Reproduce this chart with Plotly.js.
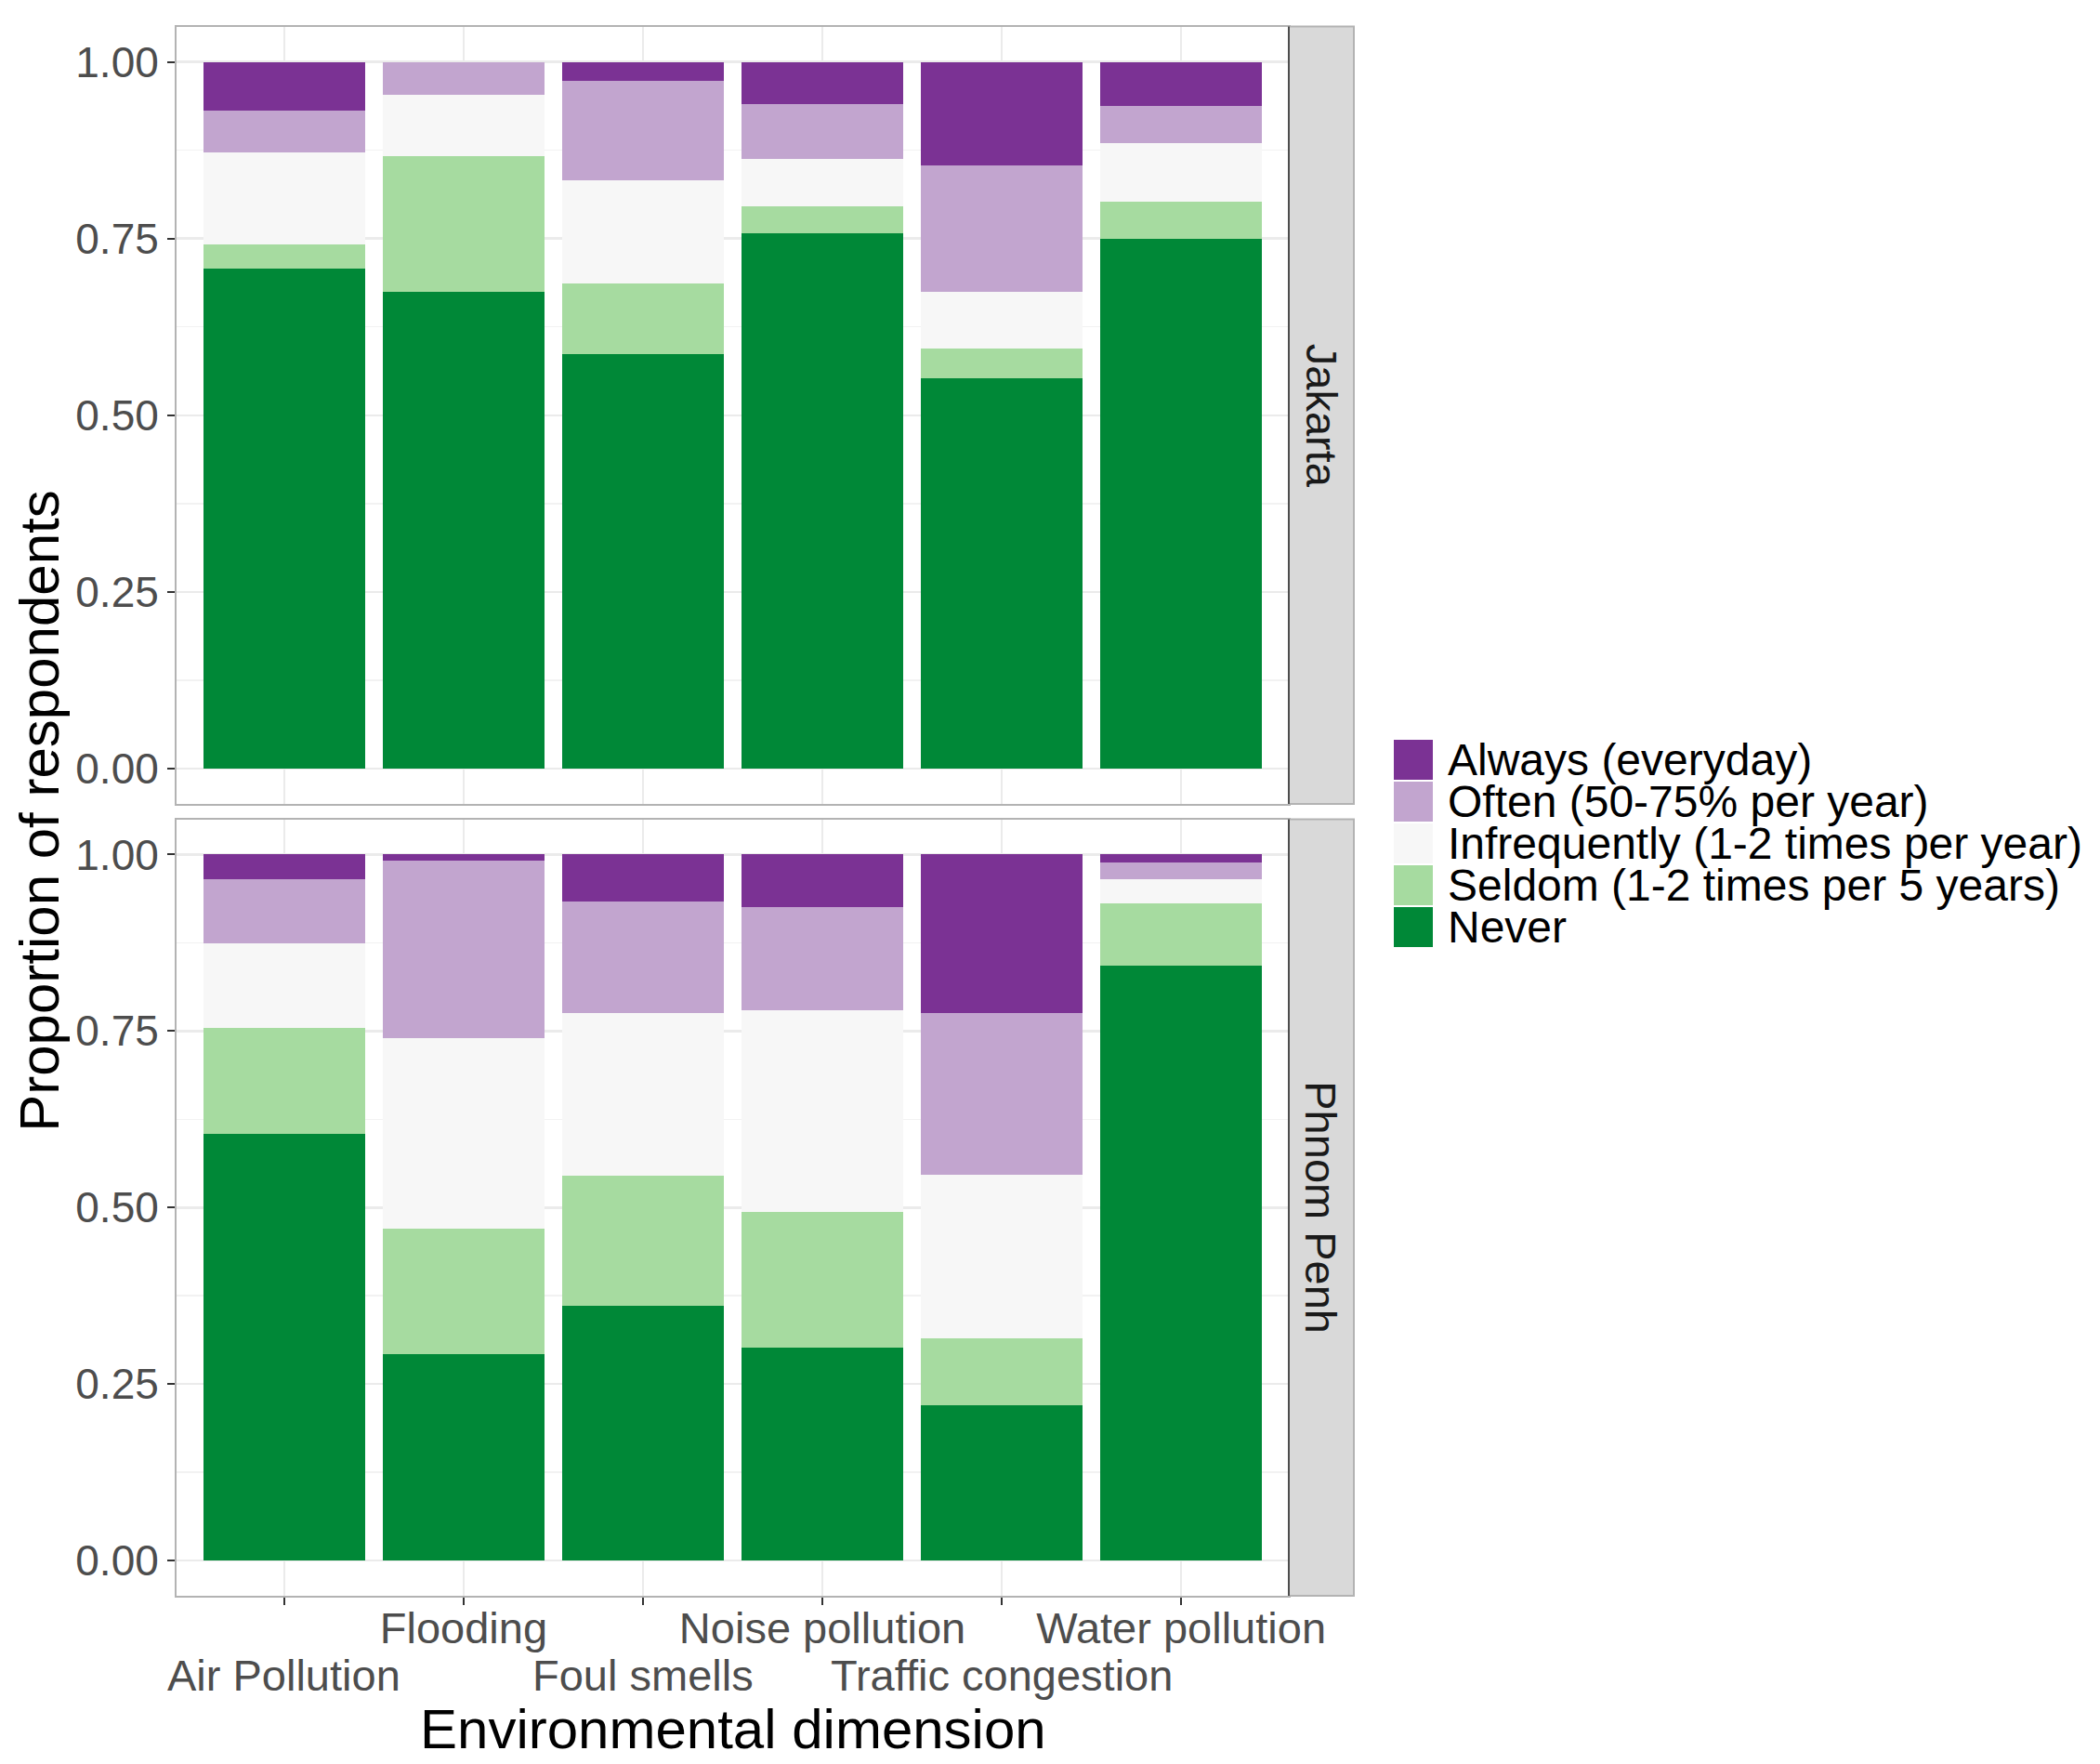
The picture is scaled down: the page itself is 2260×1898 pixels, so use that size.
<!DOCTYPE html>
<html>
<head>
<meta charset="utf-8">
<script src="https://cdn.plot.ly/plotly-3.0.1.min.js"></script>
<style>
  body { margin: 0; background: #fff; }
  #myDiv { width: 2260px; height: 1898px; }
</style>
</head>
<body>
<div id="myDiv"></div>
<script>
// categories and answer levels (bottom of the stack first)
var categories = ['Air Pollution', 'Flooding', 'Foul smells', 'Noise pollution', 'Traffic congestion', 'Water pollution'];
var levels = ['Never', 'Seldom (1-2 times per 5 years)', 'Infrequently (1-2 times per year)', 'Often (50-75% per year)', 'Always (everyday)'];
var colors = ['#008837', '#A6DBA0', '#F7F7F7', '#C2A5CF', '#7B3294'];
var cities = ['Jakarta', 'Phnom Penh'];

// proportions
var jakarta_never        = [0.708, 0.674, 0.587, 0.757, 0.552, 0.749];
var jakarta_seldom       = [0.034, 0.192, 0.100, 0.039, 0.043, 0.053];
var jakarta_infrequently = [0.130, 0.087, 0.146, 0.066, 0.079, 0.083];
var jakarta_often        = [0.059, 0.047, 0.140, 0.078, 0.179, 0.052];
var jakarta_always       = [0.069, 0.000, 0.027, 0.060, 0.147, 0.063];

var phnompenh_never        = [0.605, 0.292, 0.361, 0.301, 0.220, 0.842];
var phnompenh_seldom       = [0.150, 0.178, 0.184, 0.193, 0.095, 0.089];
var phnompenh_infrequently = [0.119, 0.270, 0.231, 0.285, 0.231, 0.034];
var phnompenh_often        = [0.091, 0.252, 0.157, 0.146, 0.230, 0.024];
var phnompenh_always       = [0.035, 0.008, 0.067, 0.075, 0.224, 0.011];

var yticks = [0, 0.25, 0.5, 0.75, 1];

var series = [
  [jakarta_never, jakarta_seldom, jakarta_infrequently, jakarta_often, jakarta_always],
  [phnompenh_never, phnompenh_seldom, phnompenh_infrequently, phnompenh_often, phnompenh_always]
];

var W = 2260, H = 1898;
var FONT = '"Liberation Sans", Arial, Helvetica, sans-serif';
function px(x) { return x / W; }
function py(y) { return 1 - y / H; }

// panel positions (pixels)
var panelL = 190, panelR = 1387, stripR = 1457;
var panels = [[28.5, 865], [881.5, 1717]];

var data = [];
for (var c = 0; c < 2; c++) {
  for (var k = 0; k < levels.length; k++) {
    data.push({
      type: 'bar',
      x: categories,
      y: series[c][k],
      name: levels[k],
      marker: { color: colors[k], line: { width: 0 } },
      xaxis: c === 0 ? 'x' : 'x2',
      yaxis: c === 0 ? 'y' : 'y2',
      showlegend: false,
      hoverinfo: 'skip'
    });
  }
}

var gridcol = '#EBEBEB';
function yax(dom) {
  return {
    domain: dom,
    range: [-0.05, 1.05],
    tickvals: yticks,
    tickformat: '.2f',
    ticks: 'outside', ticklen: 8, tickwidth: 2, tickcolor: '#333333',
    tickfont: { family: FONT, size: 46, color: '#4D4D4D' },
    showgrid: true, gridcolor: gridcol, gridwidth: 2.5,
    minor: { dtick: 0.125, showgrid: true, gridcolor: '#F2F2F2', gridwidth: 1.5 },
    zeroline: false,
    showline: true, mirror: true, linecolor: '#B3B3B3', linewidth: 2,
    fixedrange: true
  };
}

// labels dodged over two rows: odd positions on the upper row, the others below
var upperRow = categories.map(function (t, i) { return i % 2 === 1 ? t : ''; });

var layout = {
  width: W, height: H,
  margin: { l: 0, r: 0, t: 0, b: 0 },
  paper_bgcolor: '#FFFFFF', plot_bgcolor: '#FFFFFF',
  barmode: 'stack', bargap: 0.1,
  showlegend: false,
  font: { family: FONT },
  xaxis: {
    domain: [px(panelL), px(panelR)], anchor: 'y',
    type: 'category', range: [-0.6, 5.6],
    showticklabels: false, ticks: '',
    showgrid: true, gridcolor: gridcol, gridwidth: 2.5,
    showline: true, mirror: true, linecolor: '#B3B3B3', linewidth: 2,
    fixedrange: true
  },
  xaxis2: {
    domain: [px(panelL), px(panelR)], anchor: 'y2',
    type: 'category', range: [-0.6, 5.6],
    tickvals: categories, ticktext: upperRow, tickangle: 0,
    ticklabelstandoff: -15,
    ticks: 'outside', ticklen: 8, tickwidth: 2, tickcolor: '#333333',
    tickfont: { family: FONT, size: 47, color: '#4D4D4D' },
    showgrid: true, gridcolor: gridcol, gridwidth: 2.5,
    showline: true, mirror: true, linecolor: '#B3B3B3', linewidth: 2,
    fixedrange: true
  },
  yaxis: yax([py(panels[0][1]), py(panels[0][0])]),
  yaxis2: yax([py(panels[1][1]), py(panels[1][0])]),
  shapes: [],
  annotations: []
};

// lower row of category labels, placed on the x2 axis
categories.forEach(function (t, i) {
  if (i % 2 === 0) {
    layout.annotations.push({
      xref: 'x2', yref: 'paper', x: t, y: py(1802),
      text: t, showarrow: false, xanchor: 'center', yanchor: 'middle',
      font: { family: FONT, size: 47, color: '#4D4D4D' }
    });
  }
});

// facet strips
for (var p = 0; p < 2; p++) {
  layout.shapes.push({
    type: 'rect', xref: 'paper', yref: 'paper',
    x0: px(panelR), x1: px(stripR), y0: py(panels[p][1]), y1: py(panels[p][0]),
    fillcolor: '#D9D9D9', line: { color: '#B3B3B3', width: 2 }
  });
  layout.shapes.push({
    type: 'line', xref: 'paper', yref: 'paper',
    x0: px(panelR), x1: px(panelR), y0: py(panels[p][1]), y1: py(panels[p][0]),
    line: { color: '#4D4D4D', width: 2 }
  });
  layout.annotations.push({
    xref: 'paper', yref: 'paper',
    x: px((panelR + stripR) / 2), y: (py(panels[p][1]) + py(panels[p][0])) / 2,
    text: cities[p], textangle: 90, showarrow: false,
    xanchor: 'center', yanchor: 'middle',
    font: { family: FONT, size: 47, color: '#1A1A1A' }
  });
}

// axis titles
layout.annotations.push({
  xref: 'paper', yref: 'paper', x: px(43), y: py((panels[0][0] + panels[1][1]) / 2),
  text: 'Proportion of respondents', textangle: -90, showarrow: false,
  xanchor: 'center', yanchor: 'middle',
  font: { family: FONT, size: 60, color: '#000000' }
});
layout.annotations.push({
  xref: 'paper', yref: 'paper', x: px((panelL + panelR) / 2), y: py(1860),
  text: 'Environmental dimension', showarrow: false,
  xanchor: 'center', yanchor: 'middle',
  font: { family: FONT, size: 60, color: '#000000' }
});

// legend, top entry is the top of the stack
var keyL = 1500, keyR = 1542, keyTop = 796, keyStep = 45, keyH = 43;
for (var i = 0; i < levels.length; i++) {
  var k2 = levels.length - 1 - i;
  var keyY = keyTop + i * keyStep;
  layout.shapes.push({
    type: 'rect', xref: 'paper', yref: 'paper',
    x0: px(keyL), x1: px(keyR), y0: py(keyY + keyH), y1: py(keyY),
    fillcolor: colors[k2], line: { width: 0 }
  });
  layout.annotations.push({
    xref: 'paper', yref: 'paper', x: px(keyR + 14), y: py(keyY + keyH / 2),
    text: levels[k2], showarrow: false,
    xanchor: 'left', yanchor: 'middle',
    font: { family: FONT, size: 48, color: '#000000' }
  });
}

Plotly.newPlot('myDiv', data, layout, { displayModeBar: false, staticPlot: true });
</script>
</body>
</html>
